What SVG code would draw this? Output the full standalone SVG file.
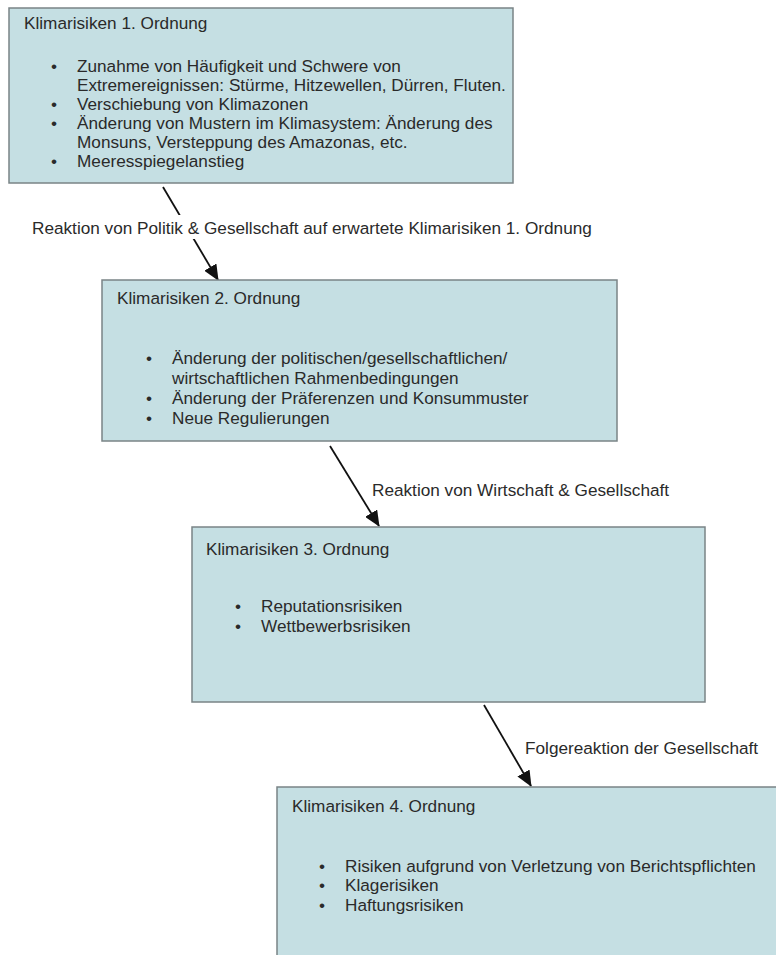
<svg xmlns="http://www.w3.org/2000/svg" width="776" height="955" viewBox="0 0 776 955">
<style>
.box{fill:#c5dfe3;stroke:#7a8486;stroke-width:1.5}
text{font-family:"Liberation Sans",Arial,Helvetica,sans-serif;font-size:17.2px;fill:#2a2a2a}
.conn{stroke:#111;stroke-width:1.8;fill:none}
.lbl{fill:#fff}
</style>
<defs>
<marker id="ah" viewBox="0 0 16 14" refX="15" refY="7" markerWidth="16" markerHeight="14" markerUnits="userSpaceOnUse" orient="auto">
<path d="M0,0 L16,7 L0,14 z" fill="#111"/>
</marker>
</defs>
<g id="connectors">
<line class="conn" x1="163" y1="187" x2="218" y2="280" marker-end="url(#ah)"/>
<rect class="lbl" x="28" y="215" width="572" height="24"/>
<text x="32" y="234">Reaktion von Politik &amp; Gesellschaft auf erwartete Klimarisiken 1. Ordnung</text>
<line class="conn" x1="330" y1="446" x2="379" y2="526" marker-end="url(#ah)"/>
<text x="372" y="496">Reaktion von Wirtschaft &amp; Gesellschaft</text>
<line class="conn" x1="484" y1="705" x2="531" y2="786" marker-end="url(#ah)"/>
<text x="525" y="754">Folgereaktion der Gesellschaft</text>
</g>
<g id="node1">
<rect class="box" x="9" y="8" width="504" height="175"/>
<text x="24" y="29">Klimarisiken 1. Ordnung</text>
<text x="51" y="72">•</text><text x="77" y="72">Zunahme von Häufigkeit und Schwere von</text>
<text x="77" y="91">Extremereignissen: Stürme, Hitzewellen, Dürren, Fluten.</text>
<text x="51" y="110">•</text><text x="77" y="110">Verschiebung von Klimazonen</text>
<text x="51" y="129">•</text><text x="77" y="129">Änderung von Mustern im Klimasystem: Änderung des</text>
<text x="77" y="148">Monsuns, Versteppung des Amazonas, etc.</text>
<text x="51" y="167">•</text><text x="77" y="167">Meeresspiegelanstieg</text>
</g>
<g id="node2">
<rect class="box" x="102" y="280" width="515" height="161"/>
<text x="117" y="304">Klimarisiken 2. Ordnung</text>
<text x="146" y="364">•</text><text x="172" y="364">Änderung der politischen/gesellschaftlichen/</text>
<text x="172" y="384">wirtschaftlichen Rahmenbedingungen</text>
<text x="146" y="404">•</text><text x="172" y="404">Änderung der Präferenzen und Konsummuster</text>
<text x="146" y="424">•</text><text x="172" y="424">Neue Regulierungen</text>
</g>
<g id="node3">
<rect class="box" x="192" y="527" width="513" height="175"/>
<text x="206" y="555">Klimarisiken 3. Ordnung</text>
<text x="235" y="612">•</text><text x="261" y="612">Reputationsrisiken</text>
<text x="235" y="632">•</text><text x="261" y="632">Wettbewerbsrisiken</text>
</g>
<g id="node4">
<rect class="box" x="277" y="787" width="510" height="180"/>
<text x="292" y="812">Klimarisiken 4. Ordnung</text>
<text x="319" y="872">•</text><text x="345" y="872">Risiken aufgrund von Verletzung von Berichtspflichten</text>
<text x="319" y="891">•</text><text x="345" y="891">Klagerisiken</text>
<text x="319" y="911">•</text><text x="345" y="911">Haftungsrisiken</text>
</g>
</svg>
